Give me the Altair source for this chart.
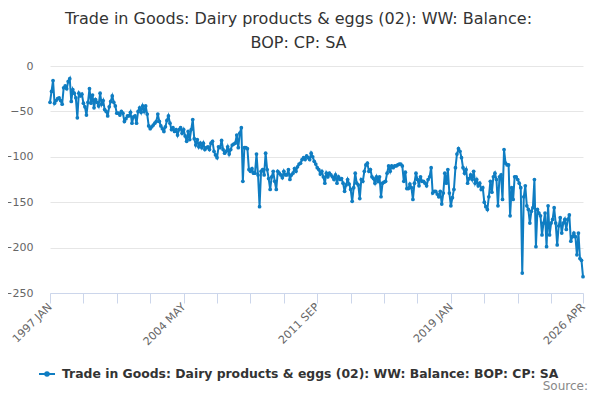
import altair as alt
import pandas as pd

series_name = "Trade in Goods: Dairy products & eggs (02): WW: Balance: BOP: CP: SA"
title_lines = ["Trade in Goods: Dairy products & eggs (02): WW: Balance:", "BOP: CP: SA"]
month_names = ["JAN", "FEB", "MAR", "APR", "MAY", "JUN", "JUL", "AUG", "SEP", "OCT", "NOV", "DEC"]
start_year = 1997

# monthly values, one row per year (1997 JAN .. 2026 APR)
v1997 = [-40, -28, -16, -41, -38, -36, -35, -38, -42, -24, -22, -25]
v1998 = [-17, -14, -39, -26, -30, -35, -57, -30, -33, -31, -41, -45]
v1999 = [-54, -40, -25, -41, -32, -46, -37, -40, -44, -30, -42, -38]
v2000 = [-48, -50, -55, -45, -39, -33, -40, -44, -52, -52, -54, -50]
v2001 = [-52, -61, -58, -55, -55, -51, -63, -56, -55, -63, -50, -46]
v2002 = [-51, -44, -50, -44, -53, -66, -69, -67, -65, -63, -61, -53]
v2003 = [-61, -66, -69, -72, -67, -60, -55, -63, -70, -68, -72, -70]
v2004 = [-76, -70, -68, -74, -70, -77, -83, -72, -81, -70, -59, -80]
v2005 = [-87, -81, -89, -85, -90, -85, -92, -90, -89, -92, -85, -83]
v2006 = [-94, -98, -101, -89, -90, -82, -92, -96, -94, -89, -97, -92]
v2007 = [-87, -86, -85, -76, -90, -74, -68, -127, -90, -90, -91, -114]
v2008 = [-116, -113, -118, -118, -97, -120, -155, -116, -114, -120, -96, -114]
v2009 = [-124, -136, -122, -116, -127, -136, -116, -118, -120, -123, -116, -120]
v2010 = [-120, -114, -125, -120, -118, -113, -116, -111, -108, -107, -103, -101]
v2011 = [-103, -99, -101, -103, -96, -100, -105, -108, -112, -114, -119, -116]
v2012 = [-122, -129, -118, -122, -118, -120, -122, -125, -120, -129, -122, -125]
v2013 = [-124, -129, -138, -131, -125, -130, -136, -149, -134, -118, -129, -131]
v2014 = [-146, -125, -127, -116, -109, -107, -116, -114, -122, -124, -129, -122]
v2015 = [-127, -122, -144, -129, -128, -127, -118, -110, -116, -110, -112, -110]
v2016 = [-110, -109, -108, -108, -110, -127, -117, -135, -135, -130, -134, -147]
v2017 = [-129, -118, -125, -132, -122, -127, -127, -129, -132, -125, -122, -112]
v2018 = [-140, -138, -138, -141, -144, -138, -152, -140, -118, -129, -114, -140]
v2019 = [-154, -145, -136, -112, -97, -91, -94, -101, -112, -118, -114, -129]
v2020 = [-124, -120, -125, -116, -129, -125, -132, -129, -136, -134, -150, -155]
v2021 = [-158, -144, -127, -139, -122, -118, -125, -154, -122, -120, -147, -92]
v2022 = [-107, -109, -109, -165, -134, -147, -122, -122, -125, -129, -134, -228]
v2023 = [-144, -132, -154, -158, -173, -160, -156, -125, -199, -158, -162, -165]
v2024 = [-186, -173, -162, -199, -154, -186, -173, -169, -156, -173, -197, -176]
v2025 = [-167, -184, -173, -169, -180, -169, -164, -193, -188, -184, -188, -208]
v2026 = [-184, -212, -214, -232]

years_values = [v1997, v1998, v1999, v2000, v2001, v2002, v2003, v2004, v2005, v2006,
                v2007, v2008, v2009, v2010, v2011, v2012, v2013, v2014, v2015, v2016,
                v2017, v2018, v2019, v2020, v2021, v2022, v2023, v2024, v2025, v2026]

tick_positions = [0, 22, 44, 66, 88, 110, 132, 154, 176, 198, 220, 242, 264, 286, 308, 330, 351]
labelled_ticks = [0, 88, 176, 264, 351]
y_ticks = [0, -50, -100, -150, -200, -250]

rows = []
idx = 0
for yi, vals in enumerate(years_values):
    for mi, v in enumerate(vals):
        rows.append({"idx": idx, "period": f"{start_year + yi} {month_names[mi]}",
                     "value": v, "series": series_name})
        idx += 1
df = pd.DataFrame(rows)
period_of = dict(zip(df["idx"], df["period"]))

label_expr = " : ".join(f"datum.value == {t} ? '{period_of[t]}'" for t in labelled_ticks) + " : ''"

FONT = "DejaVu Sans"
BLUE = "#0f7dc2"

line = alt.Chart(df).mark_line(
    strokeWidth=2,
    point=alt.OverlayMarkDef(size=14, filled=True, opacity=1),
).encode(
    x=alt.X("idx:Q", scale=alt.Scale(domain=[0, 351], nice=False, zero=False),
            axis=alt.Axis(values=tick_positions, labelExpr=label_expr, title=None,
                          grid=False, domainColor="#ccd6eb", tickColor="#ccd6eb",
                          tickSize=10, labelAngle=315, labelAlign="right",
                          labelBaseline="middle", labelPadding=2, labelFont=FONT,
                          labelFontSize=11, labelColor="#666666", labelOverlap=False,
                          labelFlush=False)),
    y=alt.Y("value:Q", scale=alt.Scale(domain=[-250, 0], nice=False, zero=False),
            axis=alt.Axis(values=y_ticks, title=None, domain=False, ticks=False,
                          gridColor="#e6e6e6", labelFont=FONT, labelFontSize=11,
                          labelColor="#666666", labelPadding=17)),
    color=alt.Color("series:N", scale=alt.Scale(range=[BLUE]),
                    legend=alt.Legend(title=None, orient="none", legendX=-12, legendY=299,
                                      symbolType="M-1,0L1,0M-0.22,0a0.22,0.22 0 1,0 0.44,0a0.22,0.22 0 1,0 -0.44,0",
                                      symbolSize=256, symbolStrokeWidth=2,
                                      symbolFillColor=BLUE, symbolStrokeColor=BLUE,
                                      labelFont=FONT, labelFontWeight="bold",
                                      labelFontSize=12.4, labelColor="#333333",
                                      labelLimit=1000, labelOffset=6)),
)

source = alt.Chart(pd.DataFrame({"t": ["Source:"]})).mark_text(
    align="right", baseline="middle", font=FONT, fontSize=12, color="#888888"
).encode(text="t:N", x=alt.value(538), y=alt.value(320))

chart = alt.layer(line, source).properties(
    width=533, height=227,
    autosize=alt.AutoSizeParams(type="none"),
    padding={"left": 42, "top": 58, "right": 9, "bottom": 99},
    title=alt.TitleParams(text=title_lines, anchor="middle", frame="group", dx=-18,
                          offset=9, fontSize=16, lineHeight=24, font=FONT,
                          fontWeight="normal", color="#333333"),
).configure_view(stroke=None)

chart.save("out.html", embed_options={"renderer": "svg", "actions": False})
